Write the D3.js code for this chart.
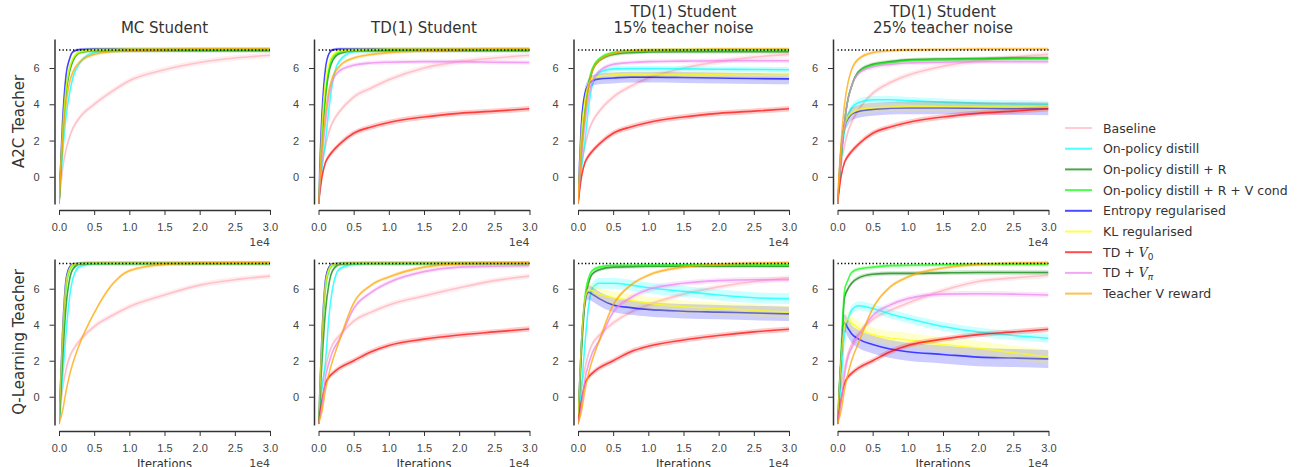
<!DOCTYPE html>
<html>
<head>
<meta charset="utf-8">
<script src="https://cdn.jsdelivr.net/npm/d3@7"></script>
<style>
  body { margin: 0; background: #fff; }
  svg { font-family: "DejaVu Sans", sans-serif; }
  .tick text { fill: #444; font-size: 11px; }
  .tick line { stroke: #333; }
  .domain { stroke: #333; stroke-width: 1.5; }
</style>
</head>
<body>
<svg id="chart" width="1302" height="467"></svg>
<script>
const xs = [0, 0.05, 0.1, 0.15, 0.2, 0.3, 0.5, 0.75, 1.0, 1.5, 2.0, 2.5, 3.0];
const xTicks = [0, 0.5, 1.0, 1.5, 2.0, 2.5, 3.0];
const yTicks = [0, 2, 4, 6];

const seriesKeys = ["base", "opd", "opdR", "opdRV", "ent", "kl", "tdv0", "tdvpi", "tvr"];
const seriesColors = ["#ffb6c1", "#00ffff", "#008000", "#00ff00", "#0000ff", "#ffff00", "#ff0000", "#ee82ee", "#ffa500"];

const colTitles = [["MC Student"], ["TD(1) Student"], ["TD(1) Student", "15% teacher noise"], ["TD(1) Student", "25% teacher noise"]];
const rowLabels = ["A2C Teacher", "Q-Learning Teacher"];
const ceilings = [7.0, 7.4];
const yDomains = [[-1.5, 7.6], [-1.57, 7.65]];

// ---- A2C teacher row ----
const a2cMC = {
  base:  [-1.5, 0.4, 1.5, 2.2, 2.7, 3.3, 4.0, 4.7, 5.3, 5.9, 6.3, 6.55, 6.7],
  opd:   [-1.5, 1.2, 3.3, 4.6, 5.5, 6.3, 6.85, 6.95, 7.0, 7.0, 7.0, 7.0, 7.0],
  opdR:  [-1.5, 2.2, 4.6, 5.8, 6.4, 6.85, 6.95, 6.95, 6.95, 6.95, 6.95, 6.95, 6.95],
  opdRV: [-1.5, 2.4, 4.8, 6.0, 6.5, 6.9, 7.0, 7.0, 7.0, 7.0, 7.0, 7.0, 7.0],
  ent:   [-1.5, 3.0, 5.6, 6.5, 6.9, 7.02, 7.05, 7.05, 7.05, 7.05, 7.05, 7.05, 7.05],
  kl:    [-1.5, 2.5, 4.9, 6.0, 6.55, 6.9, 7.0, 7.02, 7.05, 7.05, 7.05, 7.05, 7.05],
  tdv0:  null,
  tdvpi: null,
  tvr:   [-1.5, 1.8, 4.0, 5.2, 5.8, 6.35, 6.75, 6.9, 6.95, 7.0, 7.05, 7.05, 7.05]
};
const a2cTD = {
  base:  [-1.5, 0.6, 1.7, 2.5, 3.0, 3.6, 4.4, 4.9, 5.35, 6.0, 6.35, 6.55, 6.7],
  opd:   [-1.5, 0.5, 2.0, 3.8, 5.2, 6.4, 6.9, 6.95, 7.0, 7.0, 7.0, 7.0, 7.0],
  opdR:  [-1.5, 2.0, 4.4, 5.8, 6.4, 6.8, 6.95, 6.95, 6.95, 6.95, 6.95, 6.95, 6.95],
  opdRV: [-1.5, 2.3, 4.7, 6.0, 6.6, 6.9, 7.0, 7.0, 7.0, 7.0, 7.0, 7.0, 7.0],
  ent:   [-1.5, 3.5, 6.0, 6.8, 7.0, 7.05, 7.05, 7.05, 7.05, 7.05, 7.05, 7.05, 7.05],
  kl:    [-1.5, 2.8, 5.3, 6.3, 6.7, 6.95, 7.0, 7.02, 7.05, 7.05, 7.05, 7.05, 7.05],
  tdv0:  [-1.5, 0.0, 0.8, 1.15, 1.4, 1.8, 2.4, 2.75, 3.0, 3.3, 3.5, 3.62, 3.75],
  tdvpi: [-1.5, 1.0, 3.0, 4.5, 5.3, 5.85, 6.15, 6.28, 6.32, 6.35, 6.35, 6.32, 6.3],
  tvr:   [-1.5, 1.5, 3.5, 4.8, 5.5, 6.1, 6.55, 6.75, 6.85, 6.95, 7.0, 7.05, 7.05]
};
const a2cNoise15 = {
  base:  [-1.5, 0.6, 1.7, 2.5, 3.0, 3.6, 4.4, 5.0, 5.45, 6.0, 6.35, 6.6, 6.75],
  opd:   [-1.5, 0.5, 2.0, 3.8, 5.0, 5.75, 5.95, 5.97, 5.97, 5.95, 5.93, 5.92, 5.9],
  opdR:  [-1.5, 1.5, 3.6, 5.0, 5.8, 6.4, 6.75, 6.85, 6.88, 6.9, 6.9, 6.9, 6.9],
  opdRV: [-1.5, 1.7, 3.8, 5.2, 5.95, 6.5, 6.85, 6.95, 6.97, 7.0, 7.0, 7.0, 7.0],
  ent:   [-1.5, 3.0, 4.6, 5.1, 5.3, 5.4, 5.45, 5.5, 5.5, 5.48, 5.45, 5.42, 5.4],
  kl:    [-1.5, 2.5, 4.3, 5.1, 5.4, 5.55, 5.62, 5.65, 5.65, 5.63, 5.62, 5.6, 5.6],
  tdv0:  [-1.5, 0.0, 0.8, 1.15, 1.4, 1.8, 2.4, 2.75, 3.0, 3.3, 3.5, 3.62, 3.75],
  tdvpi: [-1.5, 1.0, 3.0, 4.4, 5.2, 5.8, 6.2, 6.3, 6.35, 6.38, 6.4, 6.4, 6.4],
  tvr:   [-1.5, 1.5, 3.5, 4.9, 5.8, 6.4, 6.8, 6.95, 7.0, 7.02, 7.05, 7.05, 7.05]
};
const a2cNoise25 = {
  base:  [-1.5, 0.6, 1.7, 2.5, 3.0, 3.7, 4.6, 5.2, 5.6, 6.1, 6.4, 6.6, 6.75],
  opd:   [-1.5, 0.8, 2.5, 3.4, 3.8, 4.1, 4.25, 4.25, 4.2, 4.12, 4.05, 4.02, 4.0],
  opdR:  [-1.5, 1.0, 3.0, 4.3, 5.0, 5.8, 6.2, 6.35, 6.45, 6.5, 6.52, 6.55, 6.55],
  opdRV: [-1.5, 1.0, 3.0, 4.3, 5.0, 5.75, 6.15, 6.3, 6.4, 6.45, 6.48, 6.5, 6.5],
  ent:   [-1.5, 1.5, 2.8, 3.2, 3.45, 3.6, 3.72, 3.78, 3.8, 3.8, 3.78, 3.76, 3.75],
  kl:    [-1.5, 1.5, 2.8, 3.3, 3.5, 3.7, 3.8, 3.85, 3.87, 3.87, 3.86, 3.85, 3.85],
  tdv0:  [-1.5, 0.0, 0.8, 1.15, 1.4, 1.8, 2.4, 2.75, 3.0, 3.3, 3.5, 3.62, 3.75],
  tdvpi: [-1.5, 1.0, 3.0, 4.3, 5.0, 5.7, 6.05, 6.2, 6.28, 6.32, 6.35, 6.35, 6.35],
  tvr:   [-1.5, 1.8, 4.0, 5.2, 5.9, 6.5, 6.85, 6.95, 7.0, 7.02, 7.05, 7.05, 7.05]
};

// ---- Q-learning teacher row ----
const qMC = {
  base:  [-1.5, 0.4, 1.5, 2.2, 2.6, 3.15, 3.9, 4.5, 5.0, 5.65, 6.2, 6.5, 6.7],
  opd:   [-1.5, 1.0, 3.5, 5.5, 6.6, 7.25, 7.38, 7.4, 7.4, 7.4, 7.4, 7.4, 7.4],
  opdR:  [-1.5, 2.0, 5.0, 6.5, 7.1, 7.38, 7.4, 7.4, 7.4, 7.4, 7.4, 7.4, 7.4],
  opdRV: [-1.5, 3.0, 6.0, 7.0, 7.3, 7.4, 7.42, 7.42, 7.42, 7.42, 7.42, 7.42, 7.42],
  ent:   [-1.5, 3.5, 6.5, 7.2, 7.38, 7.4, 7.42, 7.42, 7.42, 7.42, 7.42, 7.42, 7.42],
  kl:    [-1.5, 3.3, 6.3, 7.1, 7.35, 7.4, 7.42, 7.42, 7.42, 7.42, 7.42, 7.42, 7.42],
  tdv0:  null,
  tdvpi: null,
  tvr:   [-1.5, -0.8, 0.3, 1.2, 1.9, 3.0, 4.65, 6.2, 7.0, 7.35, 7.42, 7.45, 7.45]
};
const qTD = {
  base:  [-1.5, 0.5, 1.6, 2.4, 2.9, 3.4, 4.2, 4.7, 5.1, 5.6, 6.05, 6.45, 6.7],
  opd:   [-1.5, 0.5, 2.0, 4.5, 6.0, 7.1, 7.35, 7.4, 7.4, 7.4, 7.4, 7.4, 7.4],
  opdR:  [-1.5, 2.0, 4.8, 6.3, 7.0, 7.35, 7.4, 7.4, 7.4, 7.4, 7.4, 7.4, 7.4],
  opdRV: [-1.5, 3.0, 6.0, 7.0, 7.3, 7.4, 7.42, 7.42, 7.42, 7.42, 7.42, 7.42, 7.42],
  ent:   [-1.5, 3.5, 6.5, 7.2, 7.38, 7.4, 7.42, 7.42, 7.42, 7.42, 7.42, 7.42, 7.42],
  kl:    [-1.5, 3.3, 6.3, 7.1, 7.35, 7.4, 7.42, 7.42, 7.42, 7.42, 7.42, 7.42, 7.42],
  tdv0:  [-1.5, -0.2, 0.75, 1.1, 1.3, 1.6, 2.0, 2.5, 2.85, 3.2, 3.43, 3.6, 3.76],
  tdvpi: [-1.5, -0.5, 1.1, 1.9, 2.5, 3.2, 4.9, 5.8, 6.35, 6.95, 7.2, 7.25, 7.28],
  tvr:   [-1.5, -0.8, 0.4, 1.3, 2.0, 3.15, 5.2, 6.2, 6.65, 7.2, 7.38, 7.42, 7.45]
};
const qNoise15 = {
  base:  [-1.5, 0.5, 1.6, 2.4, 2.9, 3.4, 4.1, 4.7, 5.1, 5.7, 6.1, 6.4, 6.6],
  opd:   [-1.5, 0.5, 3.0, 5.0, 6.0, 6.3, 6.3, 6.2, 6.05, 5.85, 5.65, 5.5, 5.45],
  opdR:  [-1.5, 2.5, 5.3, 6.3, 6.8, 7.05, 7.2, 7.22, 7.25, 7.25, 7.25, 7.25, 7.25],
  opdRV: [-1.5, 3.0, 5.6, 6.6, 7.0, 7.2, 7.3, 7.3, 7.32, 7.33, 7.33, 7.33, 7.33],
  ent:   [-1.5, 3.0, 5.3, 5.8, 5.7, 5.45, 5.1, 4.95, 4.85, 4.75, 4.7, 4.65, 4.6],
  kl:    [-1.5, 3.0, 5.4, 5.95, 5.9, 5.7, 5.5, 5.35, 5.2, 5.0, 4.9, 4.8, 4.7],
  tdv0:  [-1.5, -0.2, 0.75, 1.1, 1.3, 1.6, 2.0, 2.5, 2.8, 3.15, 3.4, 3.6, 3.75],
  tdvpi: [-1.5, -0.5, 1.0, 1.8, 2.4, 3.1, 4.7, 5.5, 5.95, 6.3, 6.45, 6.5, 6.5],
  tvr:   [-1.5, -0.8, 0.4, 1.3, 2.0, 3.1, 5.1, 6.2, 6.75, 7.2, 7.35, 7.42, 7.45]
};
const qNoise25 = {
  base:  [-1.5, 0.5, 1.6, 2.4, 2.9, 3.5, 4.3, 4.8, 5.2, 5.9, 6.4, 6.6, 6.75],
  opd:   [-1.5, 0.8, 3.5, 4.3, 4.8, 5.05, 4.9, 4.6, 4.35, 3.9, 3.6, 3.4, 3.25],
  opdR:  [-1.5, 2.0, 5.5, 6.0, 6.3, 6.6, 6.8, 6.85, 6.85, 6.88, 6.9, 6.9, 6.9],
  opdRV: [-1.5, 2.5, 5.9, 6.5, 6.9, 7.1, 7.2, 7.28, 7.3, 7.33, 7.35, 7.35, 7.35],
  ent:   [-1.5, 2.0, 4.1, 3.8, 3.5, 3.2, 2.9, 2.65, 2.5, 2.35, 2.2, 2.15, 2.1],
  kl:    [-1.5, 2.0, 4.0, 4.3, 4.1, 3.8, 3.45, 3.25, 3.15, 2.9, 2.7, 2.45, 2.2],
  tdv0:  [-1.5, -0.2, 0.75, 1.1, 1.3, 1.6, 2.0, 2.5, 2.85, 3.2, 3.45, 3.6, 3.75],
  tdvpi: [-1.5, -0.3, 1.2, 2.2, 2.7, 3.4, 4.5, 5.1, 5.45, 5.7, 5.72, 5.7, 5.65],
  tvr:   [-1.5, -0.8, 0.4, 1.3, 2.0, 3.0, 4.9, 6.1, 6.65, 7.15, 7.35, 7.42, 7.45]
};

// shaded band half-widths, in series order
const spreadClean = [0.15, 0.12, 0.1, 0.1, 0.08, 0.1, 0.15, 0.12, 0.1];
const spreadA2C15 = [0.15, 0.15, 0.1, 0.1, 0.3, 0.15, 0.15, 0.12, 0.1];
const spreadA2C25 = [0.15, 0.2, 0.1, 0.1, 0.35, 0.25, 0.15, 0.12, 0.1];
const spreadQ15   = [0.15, 0.3, 0.1, 0.1, 0.4, 0.35, 0.15, 0.15, 0.1];
const spreadQ25   = [0.15, 0.25, 0.12, 0.1, 0.5, 0.4, 0.15, 0.15, 0.1];

const panels = [
  [a2cMC, a2cTD, a2cNoise15, a2cNoise25],
  [qMC, qTD, qNoise15, qNoise25]
];
const spreads = [
  [spreadClean, spreadClean, spreadA2C15, spreadA2C25],
  [spreadClean, spreadClean, spreadQ15, spreadQ25]
];

const svg = d3.select("#chart");

const colX0 = [59, 318.5, 578, 837.5];
const plotW = 211;
const rowTop = [39, 259], rowBottom = [204, 425];

panels.forEach((row, r) => {
  row.forEach((panel, c) => {
    const x = d3.scaleLinear().domain([0, 3]).range([colX0[c], colX0[c] + plotW]);
    const y = d3.scaleLinear().domain(yDomains[r]).range([rowBottom[r], rowTop[r]]);
    const g = svg.append("g");

    const clipId = "clip" + r + c;
    svg.append("clipPath").attr("id", clipId)
      .append("rect")
      .attr("x", x(0)).attr("y", rowTop[r])
      .attr("width", plotW).attr("height", rowBottom[r] - rowTop[r]);

    const plot = g.append("g").attr("clip-path", "url(#" + clipId + ")");

    seriesKeys.forEach((k, i) => {
      const vals = panel[k];
      if (!vals) return;
      const s = spreads[r][c][i];
      const pts = xs.map((xv, j) => ({ x: xv, y: vals[j] }));
      const area = d3.area()
        .x(d => x(d.x)).y0(d => y(d.y - s)).y1(d => y(d.y + s))
        .curve(d3.curveMonotoneX);
      const line = d3.line()
        .x(d => x(d.x)).y(d => y(d.y))
        .curve(d3.curveMonotoneX);
      plot.append("path").datum(pts)
        .attr("d", area)
        .attr("fill", seriesColors[i])
        .attr("fill-opacity", i === 0 ? 0.25 : 0.2);
      plot.append("path").datum(pts)
        .attr("d", line)
        .attr("fill", "none")
        .attr("stroke", seriesColors[i])
        .attr("stroke-opacity", i === 0 ? 0.8 : 0.7)
        .attr("stroke-width", 1.6);
    });

    // teacher performance
    g.append("line")
      .attr("x1", x(0)).attr("x2", x(3))
      .attr("y1", y(ceilings[r])).attr("y2", y(ceilings[r]))
      .attr("stroke", "#000").attr("stroke-width", 1.5)
      .attr("stroke-dasharray", "1.3,2.2");

    // axes, seaborn style offset spines
    g.append("g")
      .attr("transform", "translate(0," + (rowBottom[r] + 6) + ")")
      .call(d3.axisBottom(x).tickValues(xTicks).tickFormat(d3.format(".1f"))
        .tickSize(5).tickPadding(8).tickSizeOuter(0));
    g.append("g")
      .attr("transform", "translate(" + (colX0[c] - 4.5) + ",0)")
      .call(d3.axisLeft(y).tickValues(yTicks).tickFormat(d3.format("d"))
        .tickSize(5).tickPadding(10).tickSizeOuter(0));

    g.append("text")
      .attr("x", x(3)).attr("y", rowBottom[r] + 41.5)
      .attr("text-anchor", "end")
      .attr("font-size", 11).attr("fill", "#444")
      .text("1e4");

    if (r === 0) {
      const lines = colTitles[c];
      lines.forEach((t, li) => {
        g.append("text")
          .attr("x", colX0[c] + plotW / 2)
          .attr("y", 33 - (lines.length - 1 - li) * 16)
          .attr("text-anchor", "middle")
          .attr("font-size", 15).attr("fill", "#333")
          .text(t);
      });
    } else {
      g.append("text")
        .attr("x", colX0[c] + plotW / 2).attr("y", 468)
        .attr("text-anchor", "middle")
        .attr("font-size", 11.5).attr("fill", "#333")
        .text("Iterations");
    }
  });

  svg.append("text")
    .attr("transform", "translate(24," + (rowTop[r] + rowBottom[r]) / 2 + ") rotate(-90)")
    .attr("text-anchor", "middle")
    .attr("font-size", 15).attr("fill", "#333")
    .text(rowLabels[r]);
});

// legend
const legend = svg.append("g").attr("transform", "translate(1065,128)");
const legendLabels = ["Baseline", "On-policy distill", "On-policy distill + R", "On-policy distill + R + V cond",
  "Entropy regularised", "KL regularised", "TD + |0", "TD + |\u03c0", "Teacher V reward"];
legendLabels.forEach((lab, i) => {
  const gy = i * 20.7;
  legend.append("line")
    .attr("x1", 0).attr("x2", 27).attr("y1", gy).attr("y2", gy)
    .attr("stroke", seriesColors[i]).attr("stroke-opacity", 0.7).attr("stroke-width", 2);
  const t = legend.append("text")
    .attr("x", 38).attr("y", gy + 4.5)
    .attr("font-size", 12.5).attr("fill", "#333");
  if (lab.includes("|")) {
    const [pre, sub] = lab.split("|");
    t.append("tspan").text(pre);
    t.append("tspan").attr("font-style", "italic").attr("font-family", "DejaVu Serif").text("V");
    t.append("tspan").attr("font-size", 9).attr("dy", 3).attr("font-style", sub === "0" ? "normal" : "italic").text(sub);
  } else {
    t.text(lab);
  }
});
</script>
</body>
</html>
